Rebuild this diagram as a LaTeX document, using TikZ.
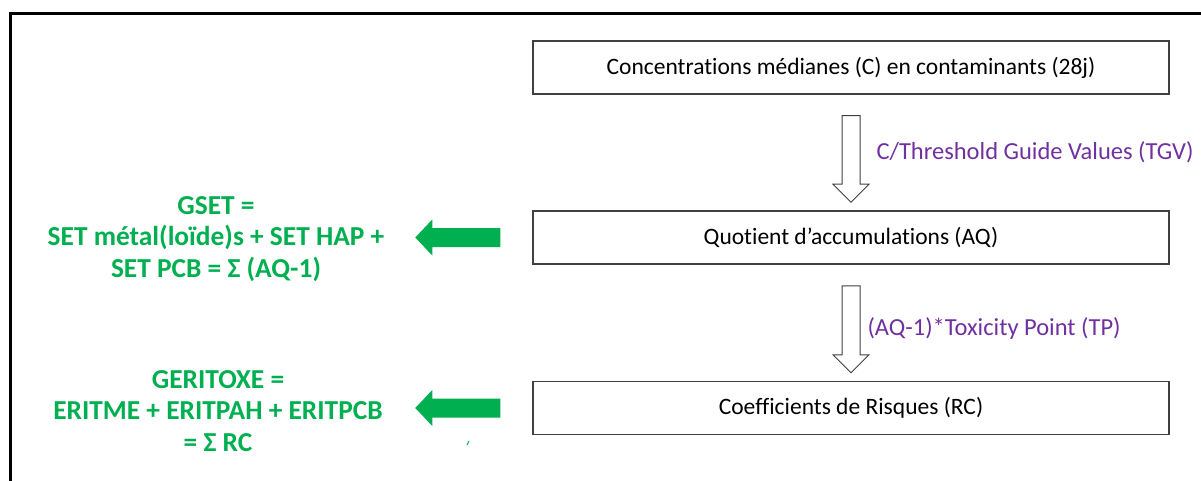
\documentclass[tikz,border=0pt]{standalone}
\usepackage{fontspec}
\setmainfont[Ligatures=CommonOff]{Carlito}
\usetikzlibrary{positioning,calc}
\definecolor{boxgray}{HTML}{404040}
\definecolor{sumgreen}{HTML}{00B050}
\definecolor{ratiopurple}{HTML}{7030A0}
\tikzset{
  stepbox/.style={draw=boxgray, line width=1.5pt, minimum width=636pt, minimum height=53pt,
    font=\fontsize{23.5}{26}\selectfont},
  sumtext/.style={text=sumgreen, align=center, font=\bfseries\fontsize{27.4}{31.5}\selectfont},
  ratiotext/.style={text=ratiopurple, anchor=west, font=\fontsize{24.5}{27}\selectfont},
  hollowarrow/.style={draw=boxgray, line width=1pt, fill=white},
  greenarrow/.style={fill=sumgreen}
}
\begin{document}
\begin{tikzpicture}[x=1pt,y=-1pt]
    \useasboundingbox (0,0) rectangle (1201,481);
    % frame
    \draw[line width=2.2pt] (10.5,481) -- (10.5,13.5) -- (1201,13.5);
    % steps
    \node[stepbox] (conc) at (851,67.5) {Concentrations médianes (C) en contaminants (28j)};
    \node[stepbox] (aq) at (851,237.5) {Quotient d’accumulations (AQ)};
    \node[stepbox] (rc) at (851,408) {Coefficients de Risques (RC)};
    \foreach \a/\b in {conc/aq, aq/rc}
        \draw[hollowarrow] ($(\a.south)+(-9,21)$) -- ($(\a.south)+(9,21)$) -- ($(\b.north)+(9,-26)$)
            -- ($(\b.north)+(18,-26)$) -- ($(\b.north)+(0,-8)$) -- ($(\b.north)+(-18,-26)$)
            -- ($(\b.north)+(-9,-26)$) -- cycle;
    \node[ratiotext] (tgv) at (873,152) {C/Threshold Guide Values (TGV)};
    \node[ratiotext] (tp) at (864,329) {(AQ-1)*Toxicity Point (TP)};
    % sums
    \node[sumtext] (gset) at (216,239) {GSET =\\SET métal(loïde)s + SET HAP +\\SET PCB = Σ (AQ-1)};
    \node[sumtext] (geritoxe) at (218,411) {GERITOXE =\\ERITME + ERITPAH + ERITPCB\\= Σ RC};
    \foreach \b in {aq, rc}
        \fill[greenarrow] ($(\b.west)+(-32,-9.5)$) -- ++(-68,0) -- ++(0,-8.5) -- ++(-17,18)
            -- ++(17,18) -- ++(0,-8.5) -- ++(68,0) -- cycle;
    \draw[sumgreen, line width=1pt] (467,445) -- (469,441);
\end{tikzpicture}
\end{document}
